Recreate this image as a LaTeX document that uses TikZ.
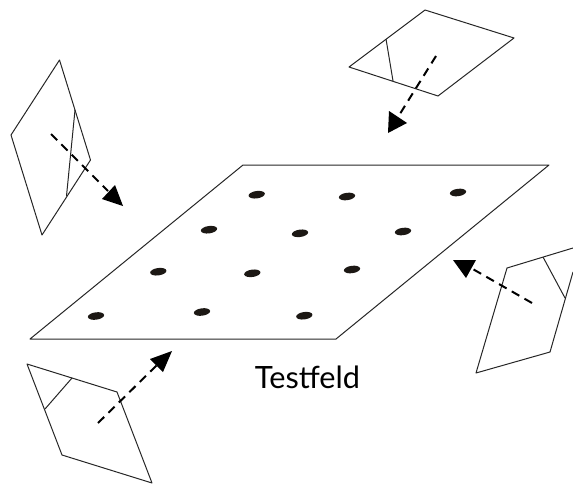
\documentclass[tikz,border=0pt]{standalone}
\usepackage{fontspec}
\setmainfont{Lato}
\definecolor{spotink}{HTML}{1C1814}
\begin{document}
\begin{tikzpicture}[x=0.75pt,y=-0.75pt,
  frame/.style={draw=black!85,line width=0.75pt,line join=round},
  spot/.style={fill=spotink,draw=none},
  shot/.style={draw=black,line width=1.5pt,dash pattern=on 6.5pt off 4.5pt},
  headtip/.style={fill=black,draw=none}]
\useasboundingbox (0,0) rectangle (573,485);
% test field
\draw[frame] (243,165) -- (549,165) -- (336,339) -- (30,339) -- cycle;
\foreach \px/\py in {256.7/194.7,347/196.5,458/192.5,209/229.7,300/233.3,403/231.5,158.3/271.7,252.3/273.3,352/269.5,96/316,202/312,304.3/315.7}
  \fill[spot] (\px,\py) ellipse [x radius=8.2,y radius=3.7,rotate=8];
% left camera
\draw[frame] (59.5,60) -- (11,135) -- (42,235) -- (90.5,160) -- cycle;
\draw[frame] (75,110) -- (66.5,196);
\coordinate (lA) at (51,134); \coordinate (lB) at (108,191);
\draw[shot] (lA) -- (lB);
\fill[headtip] (123,206) -- (115,185) -- (102,199) -- cycle;
% top camera
\draw[frame] (425,10) -- (514,38) -- (438,96) -- (349,67) -- cycle;
\draw[frame] (386,39) -- (393,81);
\coordinate (tA) at (436,56); \coordinate (tB) at (398,117);
\draw[shot] (tA) -- (tB);
\fill[headtip] (388,133) -- (389,111) -- (407,123) -- cycle;
% right camera
\draw[frame] (573,248) -- (507,268) -- (476,373) -- (550,352) -- (573,272);
\draw[frame] (543,257) -- (565,298);
\coordinate (rA) at (532,303); \coordinate (rB) at (471,268);
\draw[shot] (rA) -- (rB);
\fill[headtip] (453,260) -- (476,260) -- (466,278) -- cycle;
% bottom-left camera
\draw[frame] (27,364) -- (117,392) -- (152,483) -- (62,455) -- cycle;
\draw[frame] (72,378) -- (45,409);
\coordinate (bA) at (98,423); \coordinate (bB) at (157,365);
\draw[shot] (bA) -- (bB);
\fill[headtip] (172,351) -- (150,359) -- (163,372) -- cycle;
\node[anchor=base,inner sep=0pt] (title) at (307.5,388) {\fontsize{23}{26}\selectfont Testfeld};
\end{tikzpicture}
\end{document}
